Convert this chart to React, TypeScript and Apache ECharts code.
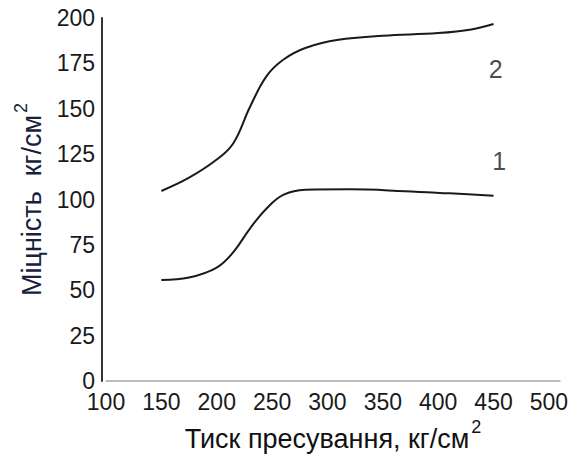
import React, { useEffect, useRef } from "react";
import * as echarts from "echarts";

const pressure1 = [150, 175, 200, 215, 230, 245, 260, 280, 320, 370, 410, 450];
const strength1 = [55.6, 57, 62.5, 71, 84, 95, 102.5, 105.4, 105.6, 104.6, 103.4, 102.1];
const pressure2 = [150, 175, 200, 215, 230, 245, 260, 280, 310, 350, 400, 430, 450];
const strength2 = [104.7, 112, 122, 131, 151, 168, 177, 183.5, 188, 190.2, 191.7, 193.7, 196.7];
const curveLabels = [
  { name: "2", x: 452, y: 172 },
  { name: "1", x: 455, y: 121 },
];
const xTitle = "Тиск пресування, кг/см";
const yTitle = "Міцність  кг/см";

export default function App() {
  const ref = useRef<HTMLDivElement>(null);
  useEffect(() => {
    if (!ref.current) return;
    document.body.style.margin = "0";
    const chart = echarts.init(ref.current, null, { renderer: "svg" });
    const font = "'Liberation Sans', Arial, sans-serif";
    chart.setOption({
      animation: false,
      backgroundColor: "#fff",
      textStyle: { fontFamily: font },
      grid: { left: 106, right: 23, top: 18, bottom: 76, containLabel: false, outerBoundsMode: "none" },
      xAxis: {
        type: "value",
        min: 100,
        max: 510,
        interval: 50,
        axisLine: { show: true, lineStyle: { color: "#a6a6a6", width: 1.5 } },
        axisTick: { show: false },
        splitLine: { show: false },
        axisLabel: {
          color: "#1a1a1a",
          fontSize: 23,
          lineHeight: 18,
          margin: 12,
          formatter: (v: number) => (v % 50 === 0 && v <= 500 ? String(v) : ""),
        },
        name: `{a|${xTitle}}{b|2}`,
        nameLocation: "middle",
        nameGap: 34,
        nameTextStyle: {
          rich: {
            a: { fontSize: 27, color: "#111", fontFamily: font, lineHeight: 34, verticalAlign: "bottom" },
            b: { fontSize: 18, color: "#111", fontFamily: font, lineHeight: 34, verticalAlign: "top", padding: [0, 0, 0, 2] },
          },
        },
      },
      yAxis: {
        type: "value",
        min: 0,
        max: 200,
        interval: 25,
        offset: 4,
        axisLine: { show: true, lineStyle: { color: "#333", width: 2 } },
        axisTick: { show: false },
        splitLine: { show: false },
        axisLabel: { color: "#1a1a1a", fontSize: 23, lineHeight: 18, margin: 7 },
        name: `{a|${yTitle}}{b|2}`,
        nameLocation: "middle",
        nameRotate: 90,
        nameGap: 52,
        nameTextStyle: {
          rich: {
            a: { fontSize: 27, color: "#16213d", fontFamily: font, lineHeight: 34, verticalAlign: "bottom" },
            b: { fontSize: 18, color: "#16213d", fontFamily: font, lineHeight: 34, verticalAlign: "top", padding: [0, 0, 0, 2] },
          },
        },
      },
      series: [
        {
          type: "line",
          name: "1",
          data: pressure1.map((x, i) => [x, strength1[i]]),
          smooth: 0.4,
          showSymbol: false,
          lineStyle: { color: "#1a1a1a", width: 2 },
        },
        {
          type: "line",
          name: "2",
          data: pressure2.map((x, i) => [x, strength2[i]]),
          smooth: 0.4,
          showSymbol: false,
          lineStyle: { color: "#1a1a1a", width: 2 },
        },
        {
          type: "scatter",
          data: curveLabels.map((c) => [c.x, c.y, c.name]),
          symbolSize: 0,
          silent: true,
          label: {
            show: true,
            position: "inside",
            formatter: (p: any) => p.value[2],
            fontSize: 25,
            color: "#1a1a1a",
            fontFamily: font,
          },
        },
      ],
    });
    return () => chart.dispose();
  }, []);
  return <div ref={ref} style={{ width: 583, height: 457 }} />;
}
